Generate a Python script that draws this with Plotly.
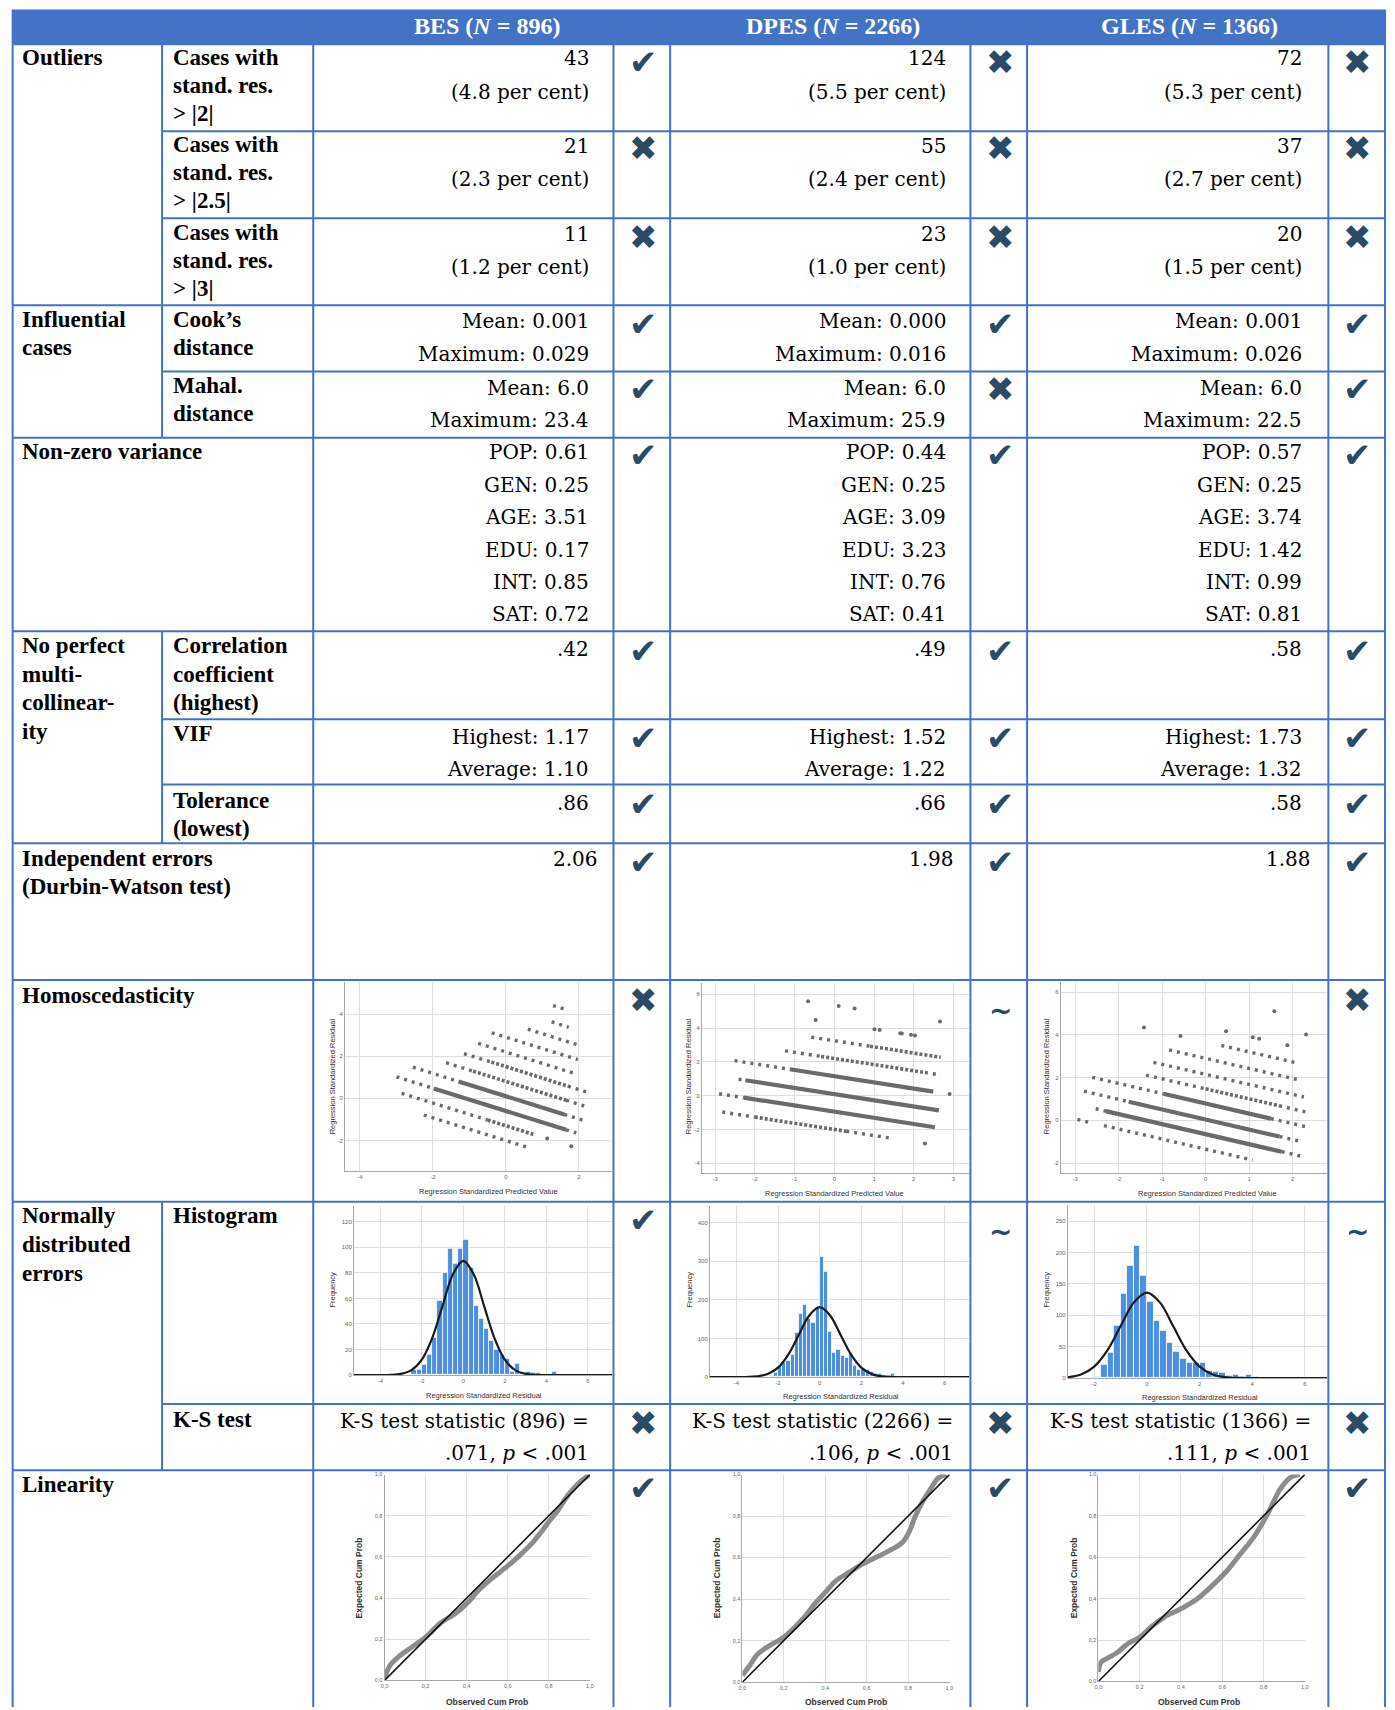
import plotly.graph_objects as go

W, H = 1395, 1710

# ---------------- table values ----------------
surveys = ["BES", "DPES", "GLES"]
sample_n = [896, 2266, 1366]
res2_count = [43, 124, 72]
res2_pct = [4.8, 5.5, 5.3]
res25_count = [21, 55, 37]
res25_pct = [2.3, 2.4, 2.7]
res3_count = [11, 23, 20]
res3_pct = [1.2, 1.0, 1.5]
cook_mean = [0.001, 0.000, 0.001]
cook_max = [0.029, 0.016, 0.026]
mahal_mean = [6.0, 6.0, 6.0]
mahal_max = [23.4, 25.9, 22.5]
var_labels = ["POP", "GEN", "AGE", "EDU", "INT", "SAT"]
var_bes = [0.61, 0.25, 3.51, 0.17, 0.85, 0.72]
var_dpes = [0.44, 0.25, 3.09, 3.23, 0.76, 0.41]
var_gles = [0.57, 0.25, 3.74, 1.42, 0.99, 0.81]
corr_highest = [0.42, 0.49, 0.58]
vif_highest = [1.17, 1.52, 1.73]
vif_average = [1.10, 1.22, 1.32]
tol_lowest = [0.86, 0.66, 0.58]
durbin_watson = [2.06, 1.98, 1.88]
ks_stat = [0.071, 0.106, 0.111]

# verdicts (ok = met, no = violated, part = partly)
verdict_res2 = ["ok", "no", "no"]
verdict_res25 = ["no", "no", "no"]
verdict_res3 = ["no", "no", "no"]
verdict_cook = ["ok", "ok", "ok"]
verdict_mahal = ["ok", "no", "ok"]
verdict_var = ["ok", "ok", "ok"]
verdict_corr = ["ok", "ok", "ok"]
verdict_vif = ["ok", "ok", "ok"]
verdict_tol = ["ok", "ok", "ok"]
verdict_dw = ["ok", "ok", "ok"]
verdict_homo = ["no", "part", "no"]
verdict_hist = ["ok", "part", "part"]
verdict_ks = ["no", "no", "no"]
verdict_lin = ["ok", "ok", "ok"]

# ---------------- residual scatter (bands: x0, y0, x1, y1) ----------------
bes_dense = [(-1.98, 0.47, 1.65, -1.49), (-1.30, 0.80, 1.60, -0.76)]
bes_medium = [(-0.90, 1.29, 1.65, -0.09), (-0.40, 1.72, 1.70, 0.58), (-0.50, -1.03, 0.75, -1.71)]
bes_sparse = [(-2.25, -0.79, 0.66, -2.36), (-2.86, 0.24, -0.50, -1.03), (-3.00, 1.02, -1.98, 0.47),
              (1.65, -1.49, 1.93, -1.64), (-2.55, 1.48, -1.30, 0.80), (1.60, -0.76, 2.15, -1.06),
              (-1.64, 1.69, -0.90, 1.29), (1.65, -0.09, 2.27, -0.43), (-1.15, 2.12, -0.40, 1.72),
              (1.70, 0.58, 2.27, 0.27), (-0.76, 2.61, 1.90, 1.17), (-0.39, 3.11, 1.97, 1.84),
              (0.60, 3.28, 2.00, 2.52), (1.25, 3.63, 1.72, 3.37), (1.29, 4.40, 1.66, 4.20)]
bes_points_x = [1.13, 1.79]
bes_points_y = [-1.91, -2.27]

dpes_dense = [(-2.24, 0.91, 2.63, -0.87), (-2.28, -0.12, 2.53, -1.87), (-1.12, 1.56, 2.49, 0.24)]
dpes_medium = [(-0.33, 2.32, 2.28, 1.37), (0.90, 2.92, 2.68, 2.27), (-2.00, -1.27, 0.30, -2.11)]
dpes_sparse = [(-2.82, -0.97, -2.00, -1.27), (0.30, -2.11, 1.49, -2.54), (-2.90, 0.11, -2.28, -0.12),
               (-2.41, 0.97, -2.24, 0.91), (-2.51, 2.07, -1.12, 1.56), (-1.24, 2.65, -0.33, 2.32),
               (2.28, 1.37, 2.68, 1.22), (-0.58, 3.46, 0.90, 2.92)]
dpes_points_x = [2.28, 2.90, -0.66, 0.11, 0.51, 2.66, -0.47, 1.01, 1.14, 1.66, 1.70, 1.93, 2.03]
dpes_points_y = [-2.83, 0.09, 5.59, 5.31, 5.16, 4.38, 4.47, 3.93, 3.88, 3.69, 3.68, 3.60, 3.56]

gles_dense = [(-2.30, 0.43, 1.75, -1.47), (-1.77, 0.87, 1.70, -0.76), (-0.97, 1.24, 1.50, 0.08)]
gles_medium = [(0.00, 1.47, 1.69, 0.68)]
gles_sparse = [(-2.95, 0.04, -2.69, -0.09), (-2.34, -0.25, 1.08, -1.86), (-2.53, 0.54, -2.30, 0.43),
               (1.75, -1.47, 2.22, -1.69), (-2.80, 1.36, -1.77, 0.87), (1.70, -0.76, 2.22, -1.00),
               (-2.61, 2.01, -0.97, 1.24), (1.50, 0.08, 2.37, -0.33), (-1.37, 2.11, 0.00, 1.47),
               (1.69, 0.68, 2.37, 0.36), (-1.20, 2.71, 2.26, 1.09), (-0.84, 3.29, 2.10, 1.91),
               (0.36, 3.50, 2.07, 2.70)]
gles_points_x = [-1.42, -0.58, 0.47, 1.08, 1.23, 1.88, 2.31, 1.58]
gles_points_y = [4.34, 3.94, 4.17, 3.88, 3.81, 3.51, 4.01, 5.10]

# ---------------- histograms of residuals ----------------
bes_bin_width = 0.25
bes_bins = [-2.375, -2.125, -1.875, -1.625, -1.375, -1.125, -0.875, -0.625, -0.375, -0.125,
            0.125, 0.375, 0.625, 0.875, 1.125, 1.375, 1.625, 1.875, 2.125, 2.375,
            2.625, 2.875, 3.125, 3.375, 3.625, 3.875, 4.125, 4.375]
bes_counts = [4, 4, 8, 16, 29, 58, 80, 99, 87, 99, 106, 84, 54, 44, 36, 27, 20, 16, 13, 3,
              9, 2, 3, 2, 2, 0, 0, 3]
dpes_bin_width = 0.2
dpes_bins = [-2.3, -2.1, -1.9, -1.7, -1.5, -1.3, -1.1, -0.9, -0.7, -0.5, -0.3, -0.1,
             0.1, 0.3, 0.5, 0.7, 0.9, 1.1, 1.3, 1.5, 1.7, 1.9, 2.1, 2.3, 2.5, 2.7, 2.9, 3.1, 3.3, 3.5]
dpes_counts = [3, 12, 30, 38, 42, 58, 115, 165, 188, 150, 141, 180,
               310, 273, 117, 63, 70, 55, 51, 63, 30, 19, 23, 18, 15, 10, 8, 3, 2, 9]
gles_bin_width = 0.25
gles_bins = [-1.875, -1.625, -1.375, -1.125, -0.875, -0.625, -0.375, -0.125, 0.125, 0.375,
             0.625, 0.875, 1.125, 1.375, 1.625, 1.875, 2.125, 2.375, 2.625, 2.875,
             3.125, 3.375, 3.625, 3.875, 4.125]
gles_counts = [2, 21, 40, 84, 134, 179, 211, 163, 121, 91, 76, 57, 42, 31, 25, 24, 25, 11, 10, 9,
               4, 6, 3, 5, 2]

curve_x = [-5.27, -4, -3.5, -3, -2.5, -2, -1.5, -1, -0.5, 0, 0.5, 1, 1.5, 2, 2.5, 3, 3.5, 4, 7.19]
bes_curve_y = [0, 0.03, 0.2, 1.0, 3.9, 12.1, 29.0, 54.2, 78.9, 89.4, 78.9, 54.2, 29.0, 12.1, 3.9, 1.0, 0.2, 0.03, 0]
dpes_curve_y = [0, 0.06, 0.4, 2.0, 7.9, 24.5, 58.9, 109.7, 159.5, 180.8, 159.5, 109.7, 58.9, 24.5, 7.9, 2.0, 0.4, 0.06, 0]
gles_curve_x = [-3.0, -2.5, -2, -1.5, -1, -0.5, 0, 0.5, 1, 1.5, 2, 2.5, 3, 3.5, 4, 6.85]
gles_curve_y = [1.5, 5.9, 18.4, 44.2, 82.6, 120.2, 136.2, 120.2, 82.6, 44.2, 18.4, 5.9, 1.5, 0.3, 0.05, 0]

# ---------------- P-P plots ----------------
bes_pp_obs = [0, 0.027, 0.076, 0.132, 0.2, 0.277, 0.342, 0.406, 0.455, 0.519, 0.6, 0.656, 0.721, 0.761, 0.802, 0.842, 0.89, 0.947, 1.0]
bes_pp_exp = [0.01, 0.073, 0.121, 0.161, 0.21, 0.282, 0.323, 0.379, 0.435, 0.492, 0.556, 0.605, 0.669, 0.718, 0.774, 0.823, 0.895, 0.96, 1.0]
dpes_pp_obs = [0, 0.035, 0.075, 0.131, 0.2, 0.291, 0.355, 0.4, 0.451, 0.515, 0.579, 0.643, 0.707, 0.771, 0.803, 0.835, 0.867, 0.907, 0.947, 0.987]
dpes_pp_exp = [0.032, 0.08, 0.136, 0.176, 0.216, 0.304, 0.384, 0.432, 0.488, 0.528, 0.568, 0.6, 0.632, 0.672, 0.72, 0.8, 0.864, 0.928, 0.984, 1.0]
gles_pp_obs = [0, 0.013, 0.053, 0.093, 0.141, 0.2, 0.254, 0.318, 0.398, 0.478, 0.559, 0.623, 0.687, 0.751, 0.815, 0.88, 0.928, 0.976]
gles_pp_exp = [0.045, 0.093, 0.117, 0.141, 0.181, 0.213, 0.262, 0.31, 0.35, 0.398, 0.47, 0.535, 0.615, 0.695, 0.8, 0.928, 0.984, 1.0]
pp_ticks = [0, 0.2, 0.4, 0.6, 0.8, 1.0]
pp_ticktext = ["0,0", "0,2", "0,4", "0,6", "0,8", "1,0"]

# ---------------- styling ----------------
VAL = "DejaVu Serif"
LAB = "Liberation Serif"
SANS = "Liberation Sans Narrow, Arial Narrow, Liberation Sans, Arial"
MARK = "DejaVu Sans"
MARK_COLOR = "#2A4A66"
LINE = "#4472C4"
GRID = "#dedede"
AXC = "#a8a8a8"
TICKC = "#666666"
DOT = "#6a6a6a"

COL_X = [8.7, 159, 311, 613, 670, 972, 1029, 1332, 1389]
VAL_RIGHT = [590, 949, 1308]
VAL_RIGHT_WIDE = [599, 957.5, 1316.5]
KS_RIGHT = [590, 956.5, 1316.5]
MARK_X = [643.5, 1002, 1361]
HEADER_X = [486, 834, 1192]
LAB1_X = 16.5
LAB2_X = 168.0

ann = []
shapes = []


def T(x, y, s, size=20, family=VAL, color="#000000", xanchor="right", angle=0, weight=None):
    font = dict(family=family, size=size, color=color)
    if weight:
        font["weight"] = weight
    ann.append(dict(x=x / W, y=1 - y / H, xref="paper", yref="paper", text=s, showarrow=False,
                    xanchor=xanchor, yanchor="middle", textangle=angle, font=font))


def hline(y, x0, x1):
    shapes.append(dict(type="line", xref="paper", yref="paper", x0=x0 / W, x1=x1 / W,
                       y0=1 - y / H, y1=1 - y / H, line=dict(color=LINE, width=2)))


def vline(x, y0, y1):
    shapes.append(dict(type="line", xref="paper", yref="paper", x0=x / W, x1=x / W,
                       y0=1 - y0 / H, y1=1 - y1 / H, line=dict(color=LINE, width=2)))


# header band
shapes.append(dict(type="rect", xref="paper", yref="paper", x0=7.7 / W, x1=1390 / W,
                   y0=1 - 41.4 / H, y1=1 - 6.5 / H, fillcolor=LINE, line=dict(width=0), layer="below"))
for i, s in enumerate(surveys):
    T(HEADER_X[i], 23.5, f"<b>{s} (<i>N</i> = {sample_n[i]})</b>", size=24, family=LAB,
      color="white", xanchor="center")

# grid lines
for y in [41.4, 303.2, 436.3, 630.4, 843.1, 980.5, 1203.0, 1472.4]:
    hline(y, COL_X[0], COL_X[-1])
for y in [128.7, 216.0, 369.7, 718.8, 784.2, 1405.9]:
    hline(y, COL_X[1], COL_X[-1])
vline(COL_X[0], 41.4, 1710)
vline(COL_X[-1], 41.4, 1710)
for x in COL_X[2:-1]:
    vline(x, 41.4, 1710)
for a, b in [(41.4, 436.3), (630.4, 843.1), (1203.0, 1472.4)]:
    vline(COL_X[1], a, b)

# row labels
col1 = [("Outliers", 54.5), ("Influential", 317.4), ("cases", 345.8), ("Non-zero variance", 450.5),
        ("No perfect", 644.6), ("multi-", 674.0), ("collinear-", 702.4), ("ity", 730.8),
        ("Independent errors", 858.4), ("(Durbin-Watson test)", 886.7), ("Homoscedasticity", 995.8),
        ("Normally", 1217.2), ("distributed", 1245.6), ("errors", 1275.0), ("Linearity", 1486.6)]
col2 = [("Cases with", 54.5), ("stand. res.", 82.9), ("&gt; |2|", 111.3),
        ("Cases with", 141.8), ("stand. res.", 170.1), ("&gt; |2.5|", 198.5),
        ("Cases with", 230.1), ("stand. res.", 258.5), ("&gt; |3|", 286.9),
        ("Cook’s", 317.4), ("distance", 345.8), ("Mahal.", 383.9), ("distance", 412.3),
        ("Correlation", 644.6), ("coefficient", 674.0), ("(highest)", 702.4), ("VIF", 733.0),
        ("Tolerance", 800.6), ("(lowest)", 828.0), ("Histogram", 1217.2), ("K-S test", 1421.2)]
for s, y in col1:
    T(LAB1_X, y, f"<b>{s}</b>", size=23, family=LAB, xanchor="left")
for s, y in col2:
    T(LAB2_X, y, f"<b>{s}</b>", size=23, family=LAB, xanchor="left")


def dec(v, n):
    return f"{v:.{n}f}".lstrip("0") if v < 1 else f"{v:.{n}f}"


variances = [var_bes, var_dpes, var_gles]
var_y = [450.5, 483.2, 515.9, 548.6, 581.3, 613.0]
for i in range(3):
    r = VAL_RIGHT[i]
    T(r, 55.6, f"{res2_count[i]}")
    T(r, 89.4, f"({res2_pct[i]:.1f} per cent)")
    T(r, 144.0, f"{res25_count[i]}")
    T(r, 176.7, f"({res25_pct[i]:.1f} per cent)")
    T(r, 232.3, f"{res3_count[i]}")
    T(r, 265.0, f"({res3_pct[i]:.1f} per cent)")
    T(r, 319.6, f"Mean: {cook_mean[i]:.3f}")
    T(r, 352.3, f"Maximum: {cook_max[i]:.3f}")
    T(r, 386.1, f"Mean: {mahal_mean[i]:.1f}")
    T(r, 418.8, f"Maximum: {mahal_max[i]:.1f}")
    for k, lab in enumerate(var_labels):
        T(r, var_y[k], f"{lab}: {variances[i][k]:.2f}")
    T(r, 647.9, dec(corr_highest[i], 2))
    T(r, 736.2, f"Highest: {vif_highest[i]:.2f}")
    T(r, 769.0, f"Average: {vif_average[i]:.2f}")
    T(r, 802.8, dec(tol_lowest[i], 2))
    T(VAL_RIGHT_WIDE[i], 859.5, f"{durbin_watson[i]:.2f}")
    T(KS_RIGHT[i], 1423.4, f"K-S test statistic ({sample_n[i]}) =")
    T(KS_RIGHT[i], 1455.0, f"{dec(ks_stat[i], 3)}, <i>p</i> &lt; .001")

glyph = {"ok": "✔", "no": "✖", "part": "~"}
verdict_rows = [(verdict_res2, 59.0), (verdict_res25, 146.0), (verdict_res3, 234.5),
                (verdict_cook, 321.7), (verdict_mahal, 387.2), (verdict_var, 453.7),
                (verdict_corr, 650.0), (verdict_vif, 737.3), (verdict_tol, 803.8),
                (verdict_dw, 861.6), (verdict_homo, 1000.2), (verdict_hist, 1221.6),
                (verdict_ks, 1425.5), (verdict_lin, 1490.0)]
for vals, y in verdict_rows:
    for i, v in enumerate(vals):
        if v == "part":
            T(MARK_X[i], y + 11, "<b>~</b>", size=28, family=MARK, color=MARK_COLOR, xanchor="center")
        else:
            T(MARK_X[i], y, glyph[v], size=34, family=MARK, color=MARK_COLOR, xanchor="center")

# ---------------- embedded charts ----------------
layout = {}
traces = []


def axname(i):
    return ("x", "y") if i == 1 else (f"x{i}", f"y{i}")


def add_axes(i, x0, x1, y0, y1, xr, yr, xt, yt, xtt=None, ytt=None, tsize=6):
    common = dict(showgrid=True, gridcolor=GRID, gridwidth=1, zeroline=False, showline=True,
                  linecolor=AXC, linewidth=1, ticks="", fixedrange=True,
                  tickfont=dict(family=SANS, size=tsize, color=TICKC))
    xk = "xaxis" if i == 1 else f"xaxis{i}"
    yk = "yaxis" if i == 1 else f"yaxis{i}"
    layout[xk] = dict(domain=[x0 / W, x1 / W], range=xr, anchor=axname(i)[1], tickvals=xt,
                      ticktext=xtt if xtt else [str(v) for v in xt], **common)
    layout[yk] = dict(domain=[1 - y1 / H, 1 - y0 / H], range=yr, anchor=axname(i)[0], tickvals=yt,
                      ticktext=ytt if ytt else [str(v) for v in yt], **common)


def seg_trace(i, segs, width, dash):
    xs, ys = [], []
    for x0, y0, x1, y1 in segs:
        xs += [x0, x1, None]
        ys += [y0, y1, None]
    xa, ya = axname(i)
    traces.append(go.Scatter(x=xs, y=ys, mode="lines", xaxis=xa, yaxis=ya, hoverinfo="skip",
                             line=dict(color=DOT, width=width, dash=dash)))


def scatter_panel(i, dense, medium, sparse, px_, py_):
    seg_trace(i, sparse, 3.4, "3px,5px")
    seg_trace(i, medium, 3.6, "3px,2px")
    seg_trace(i, dense, 4.2, "solid")
    xa, ya = axname(i)
    traces.append(go.Scatter(x=px_, y=py_, mode="markers", xaxis=xa, yaxis=ya, hoverinfo="skip",
                             marker=dict(color=DOT, size=4)))


SMALL = 7.5

# scatter panels
add_axes(1, 343, 612, 982, 1172, [-4.41, 2.92], [-3.44, 5.54], [-4, -2, 0, 2], [-2, 0, 2, 4])
scatter_panel(1, bes_dense, bes_medium, bes_sparse, bes_points_x, bes_points_y)
add_axes(2, 702, 971, 983, 1174, [-3.33, 3.4], [-4.57, 6.69], [-3, -2, -1, 0, 1, 2, 3], [-4, -2, 0, 2, 4, 6])
scatter_panel(2, dpes_dense, dpes_medium, dpes_sparse, dpes_points_x, dpes_points_y)
add_axes(3, 1063, 1331, 982, 1174, [-3.33, 2.8], [-2.46, 6.49], [-3, -2, -1, 0, 1, 2], [-2, 0, 2, 4, 6])
scatter_panel(3, gles_dense, gles_medium, gles_sparse, gles_points_x, gles_points_y)
for cx, cy, yx in [(487, 1193, 330), (835, 1195, 688), (1210, 1195, 1048)]:
    T(cx, cy, "Regression Standardized Predicted Value", size=SMALL, family=SANS, color="#333333", xanchor="center")
    T(yx, 1077, "Regression Standardized Residual", size=SMALL, family=SANS, color="#333333",
      xanchor="center", angle=-90)

# histogram panels
HIST_C = "#4C8FE0"
hist_specs = [
    (4, 352, 612, 1207, 1377, [-5.27, 7.19], [0, 132.4], [-4, -2, 0, 2, 4, 6], [0, 20, 40, 60, 80, 100, 120],
     bes_bins, bes_counts, bes_bin_width, curve_x, bes_curve_y),
    (5, 710, 971, 1207, 1379, [-5.27, 7.19], [0, 443], [-4, -2, 0, 2, 4, 6], [0, 100, 200, 300, 400],
     dpes_bins, dpes_counts, dpes_bin_width, curve_x, dpes_curve_y),
    (6, 1070, 1331, 1206, 1380, [-3.0, 6.85], [0, 276], [-2, 0, 2, 4, 6], [0, 50, 100, 150, 200, 250],
     gles_bins, gles_counts, gles_bin_width, gles_curve_x, gles_curve_y),
]
for (i, x0, x1, y0, y1, xr, yr, xt, yt, bins, counts, bw, cx_, cy_) in hist_specs:
    add_axes(i, x0, x1, y0, y1, xr, yr, xt, yt)
    xa, ya = axname(i)
    traces.append(go.Bar(x=bins, y=counts, width=bw, xaxis=xa, yaxis=ya, hoverinfo="skip",
                         marker=dict(color=HIST_C, line=dict(color="white", width=0.8))))
    traces.append(go.Scatter(x=cx_, y=cy_, mode="lines", xaxis=xa, yaxis=ya, hoverinfo="skip",
                             line=dict(color="#1a1a1a", width=2.2, shape="spline")))
for cx, cy, yx in [(483, 1397, 330), (842, 1398, 689), (1203, 1399, 1048)]:
    T(cx, cy, "Regression Standardized Residual", size=SMALL, family=SANS, color="#333333", xanchor="center")
    T(yx, 1291, "Frequency", size=SMALL, family=SANS, color="#333333", xanchor="center", angle=-90)

# P-P panels
pp_specs = [(7, 382.7, 589.3, 1476.7, 1683.3, bes_pp_obs, bes_pp_exp, 485.7, 358),
            (8, 742.7, 951.0, 1476.7, 1685.0, dpes_pp_obs, dpes_pp_exp, 846.7, 718),
            (9, 1100.7, 1308.3, 1476.7, 1684.3, gles_pp_obs, gles_pp_exp, 1201.7, 1077)]
for (i, x0, x1, y0, y1, obs, exp_, tx, ty) in pp_specs:
    add_axes(i, x0, x1, y0, y1, [0, 1], [0, 1], pp_ticks, pp_ticks, pp_ticktext, pp_ticktext, tsize=5.5)
    xa, ya = axname(i)
    traces.append(go.Scatter(x=obs, y=exp_, mode="lines", xaxis=xa, yaxis=ya, hoverinfo="skip",
                             line=dict(color="#8c8c8c", width=5, shape="spline"), cliponaxis=False))
    traces.append(go.Scatter(x=[0, 1], y=[0, 1], mode="lines", xaxis=xa, yaxis=ya, hoverinfo="skip",
                             line=dict(color="#111111", width=1.6)))
    T(tx, 1705, "Observed Cum Prob", size=8.5, family=SANS, color="#333333", xanchor="center", weight="bold")
    T(ty, 1580, "Expected Cum Prob", size=8.5, family=SANS, color="#333333", xanchor="center",
      angle=-90, weight="bold")

fig = go.Figure(data=traces)
fig.update_layout(width=W, height=H, margin=dict(l=0, r=0, t=0, b=0), paper_bgcolor="white",
                  plot_bgcolor="white", showlegend=False, annotations=ann, shapes=shapes,
                  bargap=0, **layout)
fig.write_html("out.html", config={"displayModeBar": False},
               post_script="document.body.style.margin='0';document.body.style.overflow='hidden';")
